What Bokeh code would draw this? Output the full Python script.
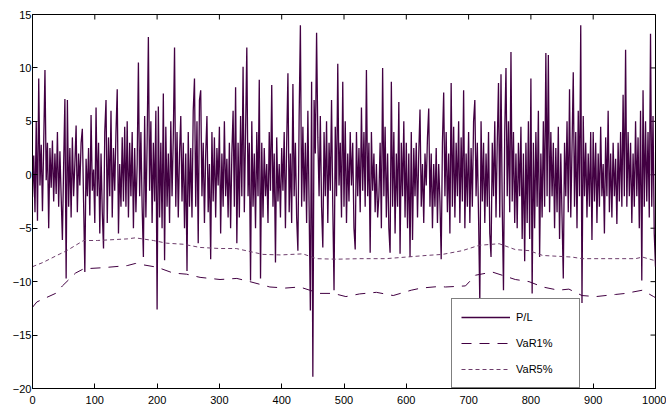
import numpy as np
from bokeh.plotting import figure
from bokeh.models import Range1d, FixedTicker, Legend, LegendItem
from bokeh.embed import file_html
from bokeh.resources import INLINE

# ---------------- data ----------------
x_ticks = [0, 100, 200, 300, 400, 500, 600, 700, 800, 900, 1000]
y_ticks = [-20, -15, -10, -5, 0, 5, 10, 15]
pl_step = 2  # observation spacing of the sampled P/L series

pl_0_248 = [
    -2.1, 1.8, -3.5, 5.0, -4.3, 9.0, -1.0, 2.8, -3.4, 3.0, 9.8, -0.5, 3.0, -5.0, 2.5, -1.2, 3.2, -2.5, 2.0, -1.8, 4.0, -3.0, 2.2, -2.0, -6.1,
    1.0, 7.1, -9.7, 7.0, -3.0, 2.5, -4.0, 3.5, -2.0, 1.0, 4.6, -3.5, 2.0, -1.0, 3.0, 4.3, -2.5, -9.1, 1.5, -2.0, 2.5, -3.8, 5.6, -1.5, 0.5,
    -4.5, 6.3, -2.0, 3.0, -5.5, 2.0, -3.5, -6.9, 4.0, 7.0, -4.5, 3.5, -2.0, 6.0, -4.0, 2.5, -1.5, 4.0, 8.0, -5.5, 1.0, -3.0, 3.5, -2.5, 4.5,
    -3.0, 5.0, -4.0, 3.0, -2.0, 4.0, -5.0, 2.5, -3.5, 1.0, 10.5, -2.0, 4.0, -3.0, -7.7, 5.5, -4.0, 3.0, 12.9, -1.5, 5.0, -4.5, 3.0, -2.5, 6.0,
    -12.6, 6.4, -4.0, 3.0, -5.0, 7.6, -8.0, 4.5, -3.0, 2.0, -4.5, 5.0, -2.0, 3.5, 11.9, -3.0, 4.0, -4.0, 2.0, 5.5, -2.5, 3.0, -5.0, 2.0, -9.0,
]
pl_250_498 = [
    4.0, -3.0, 2.5, -4.0, 6.0, 9.0, -3.0, 5.0, -6.4, 7.0, 7.9, -2.0, 3.0, -4.5, 2.0, 5.5, -3.5, 1.0, -7.9, 4.0, -2.5, 3.5, -4.0, 2.5, -1.0,
    4.5, -5.5, 2.0, -3.0, 5.0, -2.0, 1.5, -4.0, 3.0, -5.0, 2.0, 6.0, -3.0, 8.2, -6.4, 3.0, -4.0, 5.5, -2.0, 10.1, -3.5, 4.0, 11.9, -2.0, 3.0,
    -9.9, 5.0, -3.0, 2.0, -5.0, 4.0, -2.0, 8.9, -9.7, 3.0, -4.0, 2.5, -2.0, 1.0, -4.5, 4.0, -1.5, 8.4, -3.0, 2.0, -8.2, 3.5, -2.5, 1.0, -4.0,
    2.5, -1.5, 4.0, -5.0, 3.0, 9.5, -3.5, 2.0, -4.5, 8.5, -2.0, 3.0, -4.0, -7.1, 5.5, 14.0, -3.0, 4.5, -2.5, 3.0, -4.5, 6.0, -3.0, -12.7, 8.7,
    -18.9, 7.0, 2.0, 13.3, 3.5, -2.0, 5.5, -3.0, -6.8, 4.0, -2.0, 5.0, -4.5, 3.0, -1.5, 7.0, -3.0, -10.8, 4.5, -2.0, 10.4, -1.0, 3.0, -4.0, 8.7,
]
pl_500_748 = [
    -3.0, 5.0, -4.5, 2.0, -2.5, 4.0, -1.0, 3.0, -5.0, -7.0, 4.0, -2.0, 2.5, -3.5, 6.3, -1.5, 4.0, -3.0, 9.8, -2.0, 3.0, -7.3, 4.0, -1.5, 2.0,
    -3.5, 1.0, -4.0, -2.0, 3.0, -5.0, 10.0, -2.0, 4.5, -4.0, 2.0, -5.0, -7.3, 8.7, -3.0, 4.0, -5.5, 2.0, -3.0, 6.8, -7.4, 3.0, -2.0, 5.0, -4.0,
    3.0, -5.0, 2.0, -7.7, 4.0, -6.1, 2.5, -2.0, 3.0, -4.0, 2.0, 6.1, -3.0, 1.0, -4.5, 2.0, -1.0, 3.5, 6.2, -3.0, 2.0, -5.0, 1.0, -3.0, 2.5,
    -4.5, 1.0, -2.5, -7.9, 3.0, 7.7, -2.0, 4.0, -3.5, 2.0, -5.5, 8.6, -3.0, 4.5, -4.0, 3.0, -2.0, 5.0, -4.5, 3.5, -2.5, 7.9, -5.0, 2.0, -3.0,
    4.0, -4.5, 2.5, -3.0, 5.0, 7.0, -2.0, 3.0, -4.0, -12.0, 5.0, -2.5, 3.0, -4.5, 2.0, -3.0, 4.0, -5.5, -7.7, 3.0, -2.0, 5.0, -4.0, 3.0, 8.6,
]
pl_750_1000 = [
    -4.0, 9.4, -3.0, -10.8, 4.0, 10.0, -2.0, 5.0, -3.5, 11.5, -2.5, 4.0, -4.5, 2.0, -5.0, 3.0, -2.0, 4.5, -6.0, 2.0, -8.1, 3.0, -4.5, 5.0, -6.0,
    9.0, -11.1, 3.0, -5.0, 4.0, -3.0, 6.0, -7.7, 2.0, -4.0, 5.0, -3.0, 11.4, -2.0, 11.2, -3.5, 4.0, -2.0, 3.0, -5.0, 2.5, -3.5, 4.5, -6.0, 2.0,
    -4.0, -9.7, 3.0, -2.0, 5.0, -3.5, 8.0, -4.0, 2.5, 9.6, -3.0, 4.0, -5.0, 6.0, -2.0, 14.0, -12.0, 5.5, -2.0, 3.0, -4.0, 2.0, -3.0, 4.0, -6.1,
    4.0, -2.5, 3.0, -4.5, 2.0, -3.0, 4.5, -2.0, 1.0, -5.5, 3.5, -2.0, 6.0, -3.5, 2.0, -4.0, 3.0, -2.0, 1.5, -4.6, 3.0, -2.5, 4.0, -3.0, 7.5,
    -2.0, 11.7, -3.0, 4.0, -2.0, 3.0, -4.5, 2.0, -3.0, 5.0, -2.0, 3.5, -5.0, 6.0, -9.9, 7.9, -3.0, 5.0, -2.5, 4.0, -4.0, 13.2, -3.0, 5.5, -5.5,
    -8.6,
]

var1_x = [0, 7, 37, 48, 69, 82, 112, 152, 165, 200, 226, 247, 269, 301, 328, 349, 381, 406, 429, 461, 483, 503, 525,
          552, 579, 608, 624, 653, 663, 695, 711, 738, 775, 797, 819, 844, 861, 882, 904, 936, 952, 979, 997, 1000]
var1_y = [-12.4, -11.9, -11.1, -10.4, -9.2, -8.8, -8.7, -8.5, -8.3, -8.65, -9.2, -9.3, -9.6, -9.8, -9.7, -10.0, -10.5,
          -10.6, -10.5, -11.1, -11.1, -11.4, -11.15, -11.0, -11.3, -10.8, -10.6, -10.45, -10.5, -10.4, -9.4, -9.1, -9.8,
          -10.0, -10.5, -10.8, -10.7, -11.3, -11.4, -11.2, -11.1, -10.8, -11.4, -11.5]

var5_x = [0, 17, 39, 55, 82, 104, 152, 165, 194, 215, 242, 269, 301, 327, 370, 398, 434, 456, 488, 525, 567, 600,
          632, 658, 690, 717, 749, 775, 797, 819, 866, 882, 931, 968, 979, 997, 1000]
var5_y = [-8.6, -8.2, -7.55, -7.1, -6.15, -6.15, -6.0, -5.9, -6.15, -6.4, -6.5, -6.8, -6.9, -6.9, -7.45, -7.5, -7.4,
          -7.85, -7.9, -7.85, -7.85, -7.7, -7.55, -7.45, -7.1, -6.6, -6.45, -7.0, -7.1, -7.55, -7.7, -7.85, -7.85, -7.85,
          -7.7, -8.0, -8.0]

labels = ["P/L", "VaR1%", "VaR5%"]

# ---------------- figure ----------------
pl = pl_0_248 + pl_250_498 + pl_500_748 + pl_750_1000
pl_x = [i * pl_step for i in range(len(pl))]

FONT = "Liberation Sans"
PURPLE = "#420042"
PURPLE_LIGHT = "#6e3e6c"

p = figure(width=666, height=408, x_range=Range1d(0, 1000), y_range=Range1d(-20, 15),
           output_backend="svg", toolbar_location=None,
           min_border_left=32, min_border_right=11, min_border_top=14, min_border_bottom=20)
p.xgrid.visible = False
p.ygrid.visible = False
p.outline_line_color = "black"
p.outline_line_width = 1
p.background_fill_color = "white"
p.border_fill_color = "white"

for ax, ticks in ((p.xaxis[0], x_ticks), (p.yaxis[0], y_ticks)):
    ax.ticker = FixedTicker(ticks=ticks)
    ax.major_tick_in = 5
    ax.major_tick_out = 0
    ax.minor_tick_line_color = None
    ax.axis_line_color = "black"
    ax.major_tick_line_color = "black"
    ax.major_label_text_font = FONT
    ax.major_label_text_color = "black"
    ax.major_label_text_font_size = "11px"
p.xaxis[0].major_label_standoff = 7
p.yaxis[0].major_label_standoff = 1

# inward ticks on the top and right sides of the box
top_y = [15] * len(x_ticks)
right_x = [1000] * len(y_ticks)
p.scatter(x_ticks, top_y, marker="dash", angle=np.pi / 2, size=10, line_color="black", line_width=1)
p.scatter(right_x, y_ticks, marker="dash", size=10, line_color="black", line_width=1)

r_pl = p.line(pl_x, pl, line_color=PURPLE, line_width=1.3)
r_v1 = p.line(var1_x, var1_y, line_color=PURPLE, line_width=1, line_dash="10 8")
r_v5 = p.line(var5_x, var5_y, line_color=PURPLE_LIGHT, line_width=1, line_dash="4 3")

legend = Legend(items=[LegendItem(label=labels[0], renderers=[r_pl]),
                       LegendItem(label=labels[1], renderers=[r_v1]),
                       LegendItem(label=labels[2], renderers=[r_v5])],
                location=(419, 0), orientation="vertical",
                glyph_width=49, glyph_height=18, spacing=8, padding=9,
                label_standoff=6, label_width=54,
                label_text_font=FONT, label_text_font_size="11px", label_text_color="black",
                border_line_color="black", border_line_width=1,
                background_fill_color="white", background_fill_alpha=1.0)
p.add_layout(legend)

open("out.html", "w").write(file_html(p, INLINE))
